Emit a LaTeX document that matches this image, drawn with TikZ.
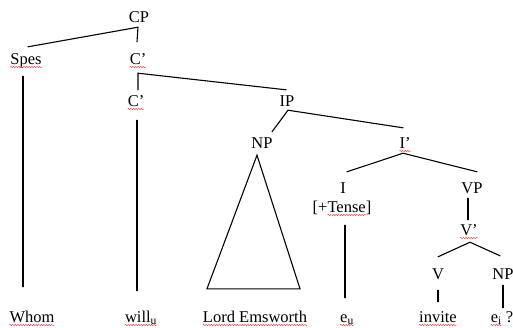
\documentclass[tikz,border=0pt]{standalone}
\usepackage{fontspec}
\setmainfont{Liberation Serif}
\usetikzlibrary{decorations.pathmorphing}
\begin{document}
\begin{tikzpicture}[x=1pt,y=1pt,
  lab/.style={anchor=base,inner sep=0pt,text height=11pt,text depth=0pt,
    font=\fontsize{16.5}{18}\selectfont},
  br/.style={line width=1.1pt,line cap=round},
  squig/.style={draw=red!75,line width=0.45pt,
    decorate,decoration={snake,amplitude=0.7pt,segment length=2.6pt}}]
\useasboundingbox (0,0) rectangle (513,-327);
% nodes
\node[lab] (CP)  at (139,-22)  {CP};
\node[lab] (Spes) at (26,-64)  {Spes};
\node[lab] (C1)  at (138,-64)  {C’};
\node[lab] (C2)  at (136,-106) {C’};
\node[lab] (IP)  at (287,-106) {IP};
\node[lab] (NP)  at (262,-148) {NP};
\node[lab] (Ib)  at (405,-148) {I’};
\node[lab] (I)   at (343,-193) {I};
\node[lab] (Tense) at (342,-212) {[+Tense]};
\node[lab] (VP)  at (472,-193) {VP};
\node[lab] (Vb)  at (469,-235) {V’};
\node[lab] (V)   at (438,-279) {V};
\node[lab] (NPb) at (503,-279) {NP};
\node[lab] (Whom) at (32,-322) {Whom};
\node[lab] (will) at (141,-322) {will\textsubscript{u}};
\node[lab] (LE)  at (255,-322) {Lord Emsworth};
\node[lab] (eu)  at (347,-322) {e\textsubscript{u}};
\node[lab] (inv) at (438,-322) {invite};
\node[lab] (ei)  at (502,-322) {e\textsubscript{i} ?};
% spell-check squiggles
\foreach \n in {Spes,C1,C2,Ib,Vb,Whom,will,LE,eu,inv}
  \draw[squig] ([yshift=-3pt]\n.base west) -- ([yshift=-3pt]\n.base east);
\draw[squig] ([xshift=15pt,yshift=-3pt]Tense.base west) -- ([xshift=-5.5pt,yshift=-3pt]Tense.base east);
\draw[squig] ([yshift=-3pt]ei.base west) -- ([xshift=11pt,yshift=-3pt]ei.base west);
% branch points
\coordinate (cpb) at ([xshift=-1pt,yshift=-5pt]CP.south);
\coordinate (c1b) at ([yshift=-9pt]C1.south);
\coordinate (ipb) at ([xshift=1pt,yshift=-4pt]IP.south);
\coordinate (ibb) at ([xshift=-2pt,yshift=-5pt]Ib.south);
\coordinate (vbb) at ([xshift=1pt,yshift=-7pt]Vb.south);
% CP
\draw[br] ([xshift=2pt,yshift=6pt]Spes.north) -- (cpb) -- ([xshift=-1pt,yshift=11pt]C1.north);
% C'
\draw[br] ([xshift=2pt,yshift=5pt]C2.north) -- (c1b) -- ([xshift=-1pt,yshift=5pt]IP.north);
% IP
\draw[br] ([xshift=10pt,yshift=5pt]NP.north) -- (ipb) -- ([xshift=-2pt,yshift=9pt]Ib.north);
% I'
\draw[br] ([xshift=4pt,yshift=10pt]I.north) -- (ibb) -- ([xshift=5pt,yshift=10pt]VP.north);
% VP -> V'
\draw[br] ([xshift=-4pt,yshift=-5pt]VP.south) -- ([xshift=-1pt,yshift=4pt]Vb.north);
% V'
\draw[br] ([yshift=11pt]V.north) -- (vbb) -- ([xshift=-3pt,yshift=12pt]NPb.north);
% V -> invite, NP -> e_i
\draw[br] ([yshift=-11pt]V.south) -- ([yshift=9pt]inv.north);
\draw[br] ([yshift=-6pt]NPb.south) -- ([xshift=1pt,yshift=3pt]ei.north);
% vertical long lines
\coordinate (sb) at ([xshift=-3pt,yshift=-12pt]Spes.south);
\coordinate (wt) at ([yshift=24pt]Whom.north);
\draw[br] (sb) -- (sb |- wt);
\coordinate (c2b) at ([xshift=1pt,yshift=-14pt]C2.south);
\coordinate (wlt) at ([yshift=20pt]will.north);
\draw[br] (c2b) -- (c2b |- wlt);
\coordinate (tb) at ([xshift=3pt,yshift=-13pt]Tense.south);
\coordinate (et) at ([yshift=13pt]eu.north);
\draw[br] (tb) -- (tb |- et);
% triangle
\draw[br,line join=miter] ([xshift=-5pt,yshift=-7pt]NP.south)
  -- ([xshift=-48pt,yshift=22pt]LE.north)
  -- ([xshift=45pt,yshift=22pt]LE.north) -- cycle;
\end{tikzpicture}
\end{document}
